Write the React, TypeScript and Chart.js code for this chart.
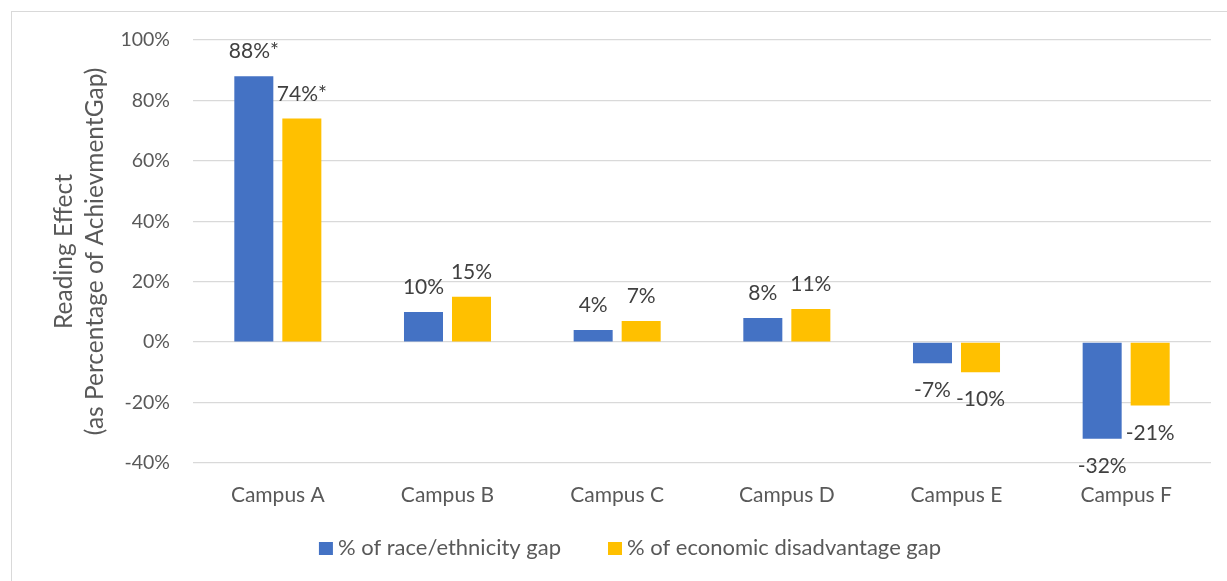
import React, { useEffect, useRef } from "react";
import { Chart, registerables } from "chart.js";

Chart.register(...registerables);

const categories = ["Campus A", "Campus B", "Campus C", "Campus D", "Campus E", "Campus F"];
const raceGap = [88, 10, 4, 8, -7, -32];
const econGap = [74, 15, 7, 11, -10, -21];
const raceLabels = ["88%*", "10%", "4%", "8%", "-7%", "-32%"];
const econLabels = ["74%*", "15%", "7%", "11%", "-10%", "-21%"];
const seriesNames = ["% of race/ethnicity gap", "% of economic disadvantage gap"];
const seriesColors = ["#4472C4", "#FFC000"];
const yTitle = ["Reading Effect", "(as Percentage of AchievmentGap)"];

const FONT = "Lato, 'Open Sans', sans-serif";

const dataLabelPlugin = {
  id: "dataLabels",
  afterDatasetsDraw(chart: any) {
    const ctx = chart.ctx;
    const labelSets = [raceLabels, econLabels];
    ctx.save();
    ctx.font = `21px ${FONT}`;
    ctx.fillStyle = "#404040";
    ctx.textAlign = "center";
    ctx.textBaseline = "alphabetic";
    chart.data.datasets.forEach((ds: any, di: number) => {
      const meta = chart.getDatasetMeta(di);
      meta.data.forEach((bar: any, i: number) => {
        const v = ds.data[i];
        const txt = labelSets[di][i];
        const y = v >= 0 ? bar.y - 18 : bar.y + 34;
        ctx.fillText(txt, bar.x, y);
      });
    });
    ctx.restore();
  },
};

const legendPlugin = {
  id: "customLegend",
  afterDraw(chart: any) {
    const ctx = chart.ctx;
    ctx.save();
    ctx.font = `22px ${FONT}`;
    const boxW = 14;
    const boxH = 13;
    const gapBoxText = 5;
    const gapItems = 47;
    const widths = chart.data.datasets.map((ds: any) => ctx.measureText(ds.label).width);
    let total = 0;
    widths.forEach((w: number, i: number) => {
      total += boxW + gapBoxText + w + (i < widths.length - 1 ? gapItems : 0);
    });
    const centerX = 630;
    const baseY = 555;
    let x = centerX - total / 2;
    chart.data.datasets.forEach((ds: any, i: number) => {
      ctx.fillStyle = ds.backgroundColor;
      ctx.fillRect(x, baseY - 13, boxW, boxH);
      x += boxW + gapBoxText;
      ctx.fillStyle = "#595959";
      ctx.textAlign = "left";
      ctx.textBaseline = "alphabetic";
      ctx.fillText(ds.label, x, baseY);
      x += widths[i] + gapItems;
    });
    ctx.restore();
  },
};

export default function App() {
  const ref = useRef<HTMLCanvasElement | null>(null);

  useEffect(() => {
    if (!ref.current) return;
    const chart = new Chart(ref.current, {
      type: "bar",
      data: {
        labels: categories,
        datasets: [
          {
            label: seriesNames[0],
            data: raceGap,
            backgroundColor: seriesColors[0],
            barPercentage: 0.8125,
            categoryPercentage: 0.566,
          },
          {
            label: seriesNames[1],
            data: econGap,
            backgroundColor: seriesColors[1],
            barPercentage: 0.8125,
            categoryPercentage: 0.566,
          },
        ],
      },
      options: {
        animation: false,
        responsive: false,
        maintainAspectRatio: false,
        layout: { padding: { left: 0, right: 16, top: 40, bottom: 66 } },
        plugins: {
          tooltip: { enabled: false },
          legend: { display: false },
        },
        scales: {
          x: {
            grid: { display: false },
            border: { display: false },
            ticks: {
              color: "#595959",
              font: { family: FONT, size: 21 },
              padding: 12,
            },
            afterFit: (s: any) => {
              s.height = 52;
            },
          },
          y: {
            min: -40,
            max: 100,
            grid: { color: "#d9d9d9", lineWidth: 1.3, drawTicks: false },
            border: { display: false },
            ticks: {
              stepSize: 20,
              padding: 23,
              color: "#595959",
              font: { family: FONT, size: 19.5 },
              callback: (v: any) => `${v}%`,
            },
            title: {
              display: true,
              text: yTitle,
              color: "#595959",
              font: { family: FONT, size: 24.5, lineHeight: 31 / 24.5 },
              padding: { top: 48.5, bottom: 0 },
            },
            afterFit: (s: any) => {
              s.width = 193;
            },
          },
        },
      },
      plugins: [dataLabelPlugin, legendPlugin],
    } as any);
    return () => chart.destroy();
  }, []);

  return (
    <div style={{ position: "fixed", left: 0, top: 0, width: 1227, height: 581, background: "#fff", overflow: "hidden" }}>
      <div
        style={{
          position: "absolute",
          left: 11,
          top: 11,
          width: 1400,
          height: 800,
          border: "1.5px solid #d9d9d9",
        }}
      />
      <canvas ref={ref} width={1227} height={581} style={{ position: "absolute", left: 0, top: 0 }} />
    </div>
  );
}
